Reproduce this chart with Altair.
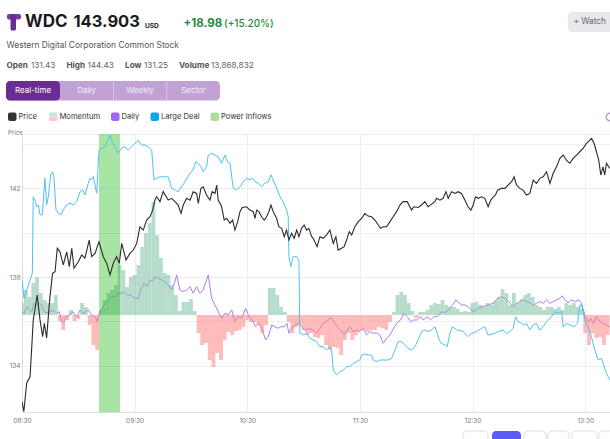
import altair as alt
import pandas as pd

# ---------------- data (minutes after 08:30) -------------
price_min = [0, 1, 2.5, 4.3, 6.0, 8.1, 9.6, 11.0, 11.9, 13.1, 14.9, 16.3, 17.6, 18.8, 20.2, 22.0, 23.8, 25.2, 26.5, 27.7,
             30.0, 31.8, 33.5, 35.8, 37.1, 38.9, 41.0, 43.3, 45.1, 46.9, 48.6, 50.4, 51.8, 53.1, 55.4, 57.5, 59.3, 61.1, 62.8, 64.6,
             66.4, 68.2, 69.6, 70.8, 71.7, 73.5, 75.2, 77.9, 79.7, 81.5, 83.2, 84.7, 85.9, 87.7, 89.5, 91.2, 93.0, 93.9, 95.3, 96.5,
             98.3, 100.1, 101.3, 102.8, 103.7, 104.5, 106.0, 106.7, 107.7, 109.0, 110.8, 112.2, 113.4, 114.9, 116.1, 117.3, 119.6, 121.4, 123.2, 124.1,
             125.0, 126.2, 127.6, 129.0, 130.3, 131.5, 132.6, 133.8, 135.6, 136.8, 138.3, 139.7, 140.9, 142.2, 143.6, 145.0, 146.3, 147.5, 148.9, 150.3,
             151.6, 152.8, 154.3, 155.1, 157.2, 158.7, 160.4, 162.2, 164.0, 165.8, 167.2, 168.4, 170.2, 171.6, 172.9, 174.3, 175.6, 177.3, 179.1, 180.9,
             182.6, 184.4, 186.2, 188.0, 189.8, 191.0, 192.4, 194.2, 196.0, 197.7, 199.5, 201.3, 203.0, 205.2, 207.5, 208.7, 211.0, 212.8, 214.6, 216.3,
             218.2, 219.9, 220.8, 222.6, 224.3, 225.8, 227.0, 228.8, 230.6, 232.3, 234.1, 235.9, 237.6, 239.1, 240.3, 241.6, 243.0, 244.8, 246.5, 248.3,
             249.7, 251.0, 252.2, 253.3, 255.4, 257.2, 258.9, 260.8, 262.1, 263.4, 265.2, 266.9, 268.7, 270.5, 272.3, 274.0, 275.8, 277.6, 279.4, 281.2,
             282.9, 284.7, 286.5, 288.3, 290.0, 291.8, 293.6, 295.4, 297.1, 298.9, 300.7, 303.4, 304.7, 306.0, 307.2, 308.3, 309.5, 310.4, 311.3, 313.1]
price_val = [132.39, 131.94, 133.23, 133.51, 136.07, 137.19, 136.07, 135.32, 135.92, 135.26, 137.12, 138.17, 138.24, 139.30, 139.14, 138.55, 139.14, 138.47, 139.30, 138.40,
             138.69, 139.00, 138.85, 139.67, 138.92, 139.07, 139.59, 138.92, 138.62, 138.10, 138.62, 138.92, 138.62, 139.52, 138.77, 139.07, 139.22, 139.52, 140.27, 140.12,
             140.57, 140.72, 141.02, 141.47, 141.62, 141.40, 141.85, 141.47, 141.55, 141.40, 141.25, 140.87, 141.25, 141.55, 141.47, 141.85, 141.77, 141.32, 142.00, 142.07,
             141.70, 141.47, 141.85, 141.77, 142.15, 141.47, 141.25, 141.02, 140.57, 140.65, 140.42, 140.57, 140.12, 140.50, 140.95, 141.14, 141.17, 141.02, 140.95, 140.65,
             141.02, 140.95, 140.72, 140.57, 140.72, 140.95, 141.25, 140.95, 140.65, 140.27, 140.20, 139.82, 140.12, 139.67, 139.97, 139.75, 140.12, 139.82, 140.20, 140.35,
             140.12, 140.20, 139.82, 139.75, 139.37, 139.82, 139.75, 139.90, 140.12, 139.52, 139.82, 139.22, 139.30, 139.37, 139.67, 140.05, 139.90, 140.27, 140.50, 140.65,
             140.87, 140.75, 140.72, 140.57, 140.35, 140.20, 140.27, 140.27, 140.50, 140.72, 140.95, 141.25, 141.40, 141.40, 141.02, 141.17, 141.14, 141.25, 141.40, 141.17,
             141.29, 141.40, 141.55, 141.47, 141.55, 141.85, 141.55, 141.85, 141.77, 141.85, 141.77, 141.47, 141.17, 141.02, 141.25, 141.62, 141.55, 141.62, 141.55, 141.17,
             141.47, 141.62, 141.70, 141.92, 142.00, 142.00, 142.15, 142.30, 142.52, 142.15, 142.00, 141.92, 141.70, 141.77, 142.37, 142.22, 142.45, 142.52, 142.75, 142.22,
             142.67, 142.97, 143.35, 143.50, 143.27, 143.13, 143.35, 143.50, 143.65, 143.80, 144.03, 144.25, 144.03, 143.65, 143.27, 142.60, 142.97, 142.60, 143.13, 142.90]

deal_min = [0, 1.1, 2.5, 4.3, 5.5, 6.0, 6.9, 7.8, 8.7, 9.6, 10.8, 12.2, 13.1, 14.0, 15.3, 16.3, 17.0, 18.1, 19.3, 20.8,
            22.0, 23.8, 25.6, 27.3, 29.1, 30.9, 32.3, 33.5, 35.3, 36.2, 37.1, 38.0, 39.8, 41.0, 42.4, 44.2, 45.4, 46.9, 48.3, 49.5,
            51.3, 53.1, 54.8, 56.6, 58.4, 60.2, 61.9, 63.7, 65.5, 67.3, 69.1, 70.3, 71.7, 73.5, 75.2, 77.9, 79.7, 81.5, 83.2, 85.0,
            86.8, 89.5, 91.2, 92.5, 93.9, 95.3, 96.5, 98.3, 99.2, 101.0, 102.8, 104.5, 106.3, 108.1, 109.5, 110.8, 112.5, 114.3, 116.1, 117.8,
            119.6, 121.4, 122.6, 124.1, 125.8, 127.6, 129.4, 131.2, 132.6, 133.8, 135.6, 137.4, 139.1, 140.9, 141.8, 142.2, 143.2, 144.5, 146.3, 147.5,
            148.0, 149.8, 151.6, 153.4, 155.1, 156.9, 158.7, 160.4, 162.2, 164.0, 164.9, 165.8, 167.6, 169.3, 171.1, 172.9, 174.7, 176.4, 178.2, 180.0,
            180.9, 182.6, 184.4, 186.2, 187.1, 188.9, 190.6, 192.4, 195.1, 196.9, 198.6, 200.4, 202.2, 203.9, 205.7, 207.5, 209.3, 211.0, 212.8, 214.6,
            216.3, 218.2, 219.9, 221.2, 222.2, 223.5, 225.3, 226.5, 227.9, 229.3, 231.5, 232.3, 235.0, 237.6, 239.5, 242.1, 244.8, 246.5, 248.3, 251.0,
            253.6, 256.3, 258.1, 259.9, 261.6, 262.9, 264.3, 266.1, 267.8, 268.7, 270.5, 272.3, 274.0, 275.8, 277.6, 279.4, 282.1, 283.8, 285.6, 287.4,
            288.3, 290.0, 291.8, 294.1, 295.9, 297.1, 298.0, 299.8, 301.5, 303.3, 305.1, 306.9, 308.7, 310.1, 311.3, 313.1]
deal_val = [47.5, 40.9, 43.9, 47.5, 49.9, 77.4, 76.3, 73.8, 74.5, 70.9, 70.9, 84.1, 74.5, 77.4, 85.3, 86.4, 84.6, 72.7, 71.5, 70.9,
            72.7, 74.5, 75.1, 74.5, 75.6, 79.2, 79.9, 78.1, 82.3, 84.1, 83.5, 84.7, 78.7, 94.2, 94.9, 95.4, 97.2, 99.6, 96.7, 95.4,
            93.1, 94.9, 95.4, 94.2, 95.4, 96.7, 97.8, 96.0, 96.0, 95.4, 94.2, 83.5, 84.1, 84.6, 84.6, 84.6, 80.5, 79.9, 79.2, 81.0,
            82.8, 85.9, 87.1, 90.0, 89.4, 88.2, 86.4, 88.2, 92.4, 93.1, 92.4, 91.8, 89.4, 92.4, 90.0, 89.4, 80.5, 79.9, 81.0, 82.8,
            84.1, 83.5, 84.1, 82.8, 82.3, 81.0, 82.3, 82.8, 85.3, 83.5, 80.5, 77.5, 75.6, 72.7, 70.3, 55.9, 52.3, 55.9, 55.9, 54.7,
            28.3, 27.7, 28.3, 26.5, 25.9, 25.3, 23.5, 23.5, 22.3, 23.5, 22.3, 15.1, 13.3, 14.5, 15.1, 16.3, 16.3, 17.5, 18.1, 18.7,
            20.5, 20.9, 20.5, 20.5, 18.7, 18.1, 18.7, 18.7, 18.7, 19.3, 22.3, 25.3, 25.3, 24.1, 22.9, 22.3, 23.5, 25.9, 28.9, 29.5,
            28.9, 29.5, 30.7, 28.3, 25.9, 24.7, 24.1, 23.5, 28.3, 30.7, 29.5, 29.5, 28.9, 27.1, 28.3, 28.9, 30.1, 30.7, 27.7, 28.1,
            28.9, 29.5, 28.3, 28.9, 30.1, 34.3, 32.5, 31.9, 31.3, 31.9, 29.5, 31.3, 31.9, 29.5, 30.7, 32.5, 34.3, 36.1, 35.5, 36.1,
            30.7, 31.9, 31.3, 30.7, 31.9, 38.5, 38.5, 33.1, 30.7, 27.1, 22.3, 18.7, 19.3, 16.3, 13.9, 11.5]

daily_min = [0, 1.1, 2.5, 3.9, 5.2, 6.4, 7.8, 9.2, 10.5, 11.7, 13.2, 14.9, 16.7, 18.5, 19.9, 21.1, 22.4, 23.8, 25.6, 27.0,
             28.2, 29.4, 30.9, 32.3, 34.1, 35.3, 37.1, 38.9, 40.1, 41.2, 42.4, 44.2, 46.0, 47.8, 49.5, 51.3, 53.1, 54.3, 56.1, 57.9,
             60.2, 61.9, 63.2, 65.0, 66.4, 68.2, 69.6, 70.8, 72.6, 74.4, 76.1, 77.9, 79.7, 81.5, 82.4, 84.1, 85.9, 87.7, 89.5, 91.2,
             93.0, 94.8, 96.5, 99.2, 101.0, 102.8, 104.5, 106.3, 108.1, 109.9, 111.7, 113.4, 115.2, 117.0, 119.1, 120.9, 122.6, 124.4, 126.2, 128.0,
             129.8, 131.2, 133.0, 134.7, 136.5, 137.9, 139.7, 141.1, 142.2, 143.6, 145.8, 147.1, 148.9, 150.7, 152.5, 155.1, 156.9, 158.7, 160.4, 162.2,
             164.4, 166.1, 167.9, 169.7, 171.5, 173.2, 174.7, 176.4, 178.2, 180.0, 181.7, 183.5, 185.3, 187.1, 188.9, 190.6, 192.4, 194.2, 196.0, 197.7,
             199.5, 201.7, 203.4, 205.2, 207.0, 208.7, 210.5, 212.3, 213.7, 215.8, 217.6, 219.4, 221.2, 223.5, 225.2, 227.0, 229.3, 231.1, 234.1, 235.9,
             237.6, 240.3, 243.0, 245.6, 248.3, 251.0, 253.3, 255.4, 257.2, 259.3, 261.6, 263.4, 265.2, 266.9, 268.7, 270.5, 272.3, 274.1, 275.8, 277.6,
             279.4, 281.2, 282.9, 284.7, 286.5, 287.7, 289.2, 290.9, 292.7, 294.8, 296.6, 298.0, 299.8, 301.6, 303.0, 304.2, 306.0, 307.8, 309.6, 311.4,
             313.1]
daily_val = [36.1, 35.5, 37.9, 36.7, 36.1, 39.1, 38.5, 39.1, 38.5, 36.1, 35.7, 36.1, 36.7, 35.5, 36.1, 32.5, 32.5, 34.3, 34.9, 36.1,
             34.9, 34.3, 36.7, 35.5, 36.1, 36.7, 34.9, 34.3, 32.5, 35.5, 36.7, 39.1, 40.3, 41.5, 41.5, 42.7, 42.7, 43.3, 42.1, 42.1,
             40.9, 40.9, 43.9, 46.3, 45.1, 47.5, 46.9, 48.7, 48.1, 47.5, 46.9, 45.7, 43.9, 46.9, 49.3, 43.9, 43.3, 43.9, 45.1, 42.7,
             45.1, 42.7, 43.9, 49.3, 40.9, 38.5, 36.1, 33.7, 35.5, 34.9, 36.7, 32.5, 34.3, 33.7, 37.3, 34.3, 33.1, 30.7, 31.9, 29.5,
             25.9, 27.1, 31.3, 30.7, 30.1, 30.7, 30.7, 31.9, 28.3, 30.1, 31.3, 31.9, 30.7, 29.5, 30.1, 29.5, 28.3, 30.1, 31.9, 32.5,
             34.1, 32.5, 30.7, 29.5, 27.7, 29.5, 30.7, 28.9, 29.5, 28.9, 30.1, 27.7, 28.9, 28.3, 28.5, 27.7, 24.7, 26.5, 27.7, 29.8,
             31.9, 33.1, 35.5, 34.3, 32.5, 33.1, 33.1, 34.3, 33.1, 34.3, 33.1, 34.3, 34.3, 36.1, 35.7, 36.7, 38.5, 40.3, 38.5, 38.5,
             37.9, 36.1, 37.3, 37.9, 38.5, 39.1, 40.9, 41.5, 40.9, 39.7, 37.9, 39.1, 39.7, 40.3, 39.7, 39.3, 38.5, 39.1, 39.7, 39.1,
             40.3, 39.1, 39.7, 40.3, 40.9, 41.8, 40.3, 39.3, 40.3, 39.7, 40.3, 39.1, 34.9, 32.5, 33.7, 31.9, 34.3, 32.5, 31.9, 31.3,
             30.6]

mom_min = list(range(0, 313, 2))
mom_val = [12, 25, 18, 32, 38, 22, 15, 12, 12, 20,
           -6, -15, -5, 5, -6, -4, 12, 8, -10, -30,
           -35, 5, 15, 22, 25, 30, 50, 45, 28, 38,
           40, 50, 68, 82, 92, 113, 80, 57, 42, 40,
           30, 20, 4, 13, 13, 16, 4, -18, -30, -28,
           -45, -52, -38, -45, -25, -17, -20, -16, -15, -12,
           -5, -7, -7, -10, -18, -10, 27, 27, 20, 8,
           3, -7, -18, -12, -10, -15, -20, -18, -22, -23,
           -20, -30, -35, -32, -33, -40, -25, -18, -25, -20,
           -16, -15, -17, -15, -15, -12, -13, -15, -7, 3,
           20, 23, 20, 12, 4, -3, 3, 3, 5, 10,
           12, 11, 15, 10, 8, 8, 6, 3, 4, 3,
           12, 13, 10, 8, 12, 10, 14, 18, 26, 22,
           10, 22, 12, 16, 20, 22, 18, 10, 8, 5,
           8, 8, 6, 8, 5, 12, 10, 12, 8, 6,
           -18, -30, -18, -23, -22, -30, -20]

inflow_start_min = [41.0]
inflow_end_min = [52.2]

legend_labels = ["Price", "Momentum", "Daily", "Large Deal", "Power Inflows"]
tab_labels = ["Real-time", "Daily", "Weekly", "Sector"]
tick_hours = [8, 9, 10, 11, 12, 13]

# ---------------- frames ----------------
base = pd.Timestamp("2024-01-02 08:30:00")


def ts(mins):
    return (base + pd.to_timedelta(list(mins), unit="min")).round("s")


def frame(mins, vals, name):
    n = min(len(mins), len(vals))
    return pd.DataFrame({"t": ts(mins[:n]), name: vals[:n]})


price_df = frame(price_min, price_val, "price")
deal_df = frame(deal_min, deal_val, "deal")
daily_df = frame(daily_min, daily_val, "daily")
mom_df = frame(mom_min, mom_val, "mom")
band_df = pd.DataFrame({"start": ts(inflow_start_min), "end": ts(inflow_end_min)})
dummy = pd.DataFrame({"k": [0]})

W, H = 588, 278
X0, Y0 = 22, 134
FONT = "Inter"

x_scale = alt.Scale(domain=[alt.DateTime(year=2024, month=1, date=2, hours=8, minutes=30),
                            alt.DateTime(year=2024, month=1, date=2, hours=13, minutes=43, seconds=12)],
                    padding=0)
x_axis = alt.Axis(values=[alt.DateTime(year=2024, month=1, date=2, hours=h, minutes=30) for h in tick_hours],
                  format="%H:%M", grid=True, gridColor="#eeeeee", domainColor="#dddddd", ticks=False,
                  labelFontSize=6.5, labelColor="#777777", labelPadding=5, title=None, labelFont=FONT,
                  labelFlush=False, labelBound=False, labelOverlap=False)

TEAL = "#7dbfa2"
PINK = "#ff8282"

band = alt.Chart(band_df).mark_rect(color="#0fb400", opacity=0.36).encode(
    x=alt.X("start:T", scale=x_scale, axis=x_axis), x2="end:T",
    y=alt.value(0), y2=alt.value(H))

bars = alt.Chart(mom_df).mark_bar(size=3.8, clip=True).encode(
    x=alt.X("t:T", scale=x_scale, axis=x_axis),
    y=alt.Y("mom:Q", scale=alt.Scale(domain=[-97, 181], nice=False), axis=None),
    color=alt.condition(alt.datum.mom >= 0, alt.value(TEAL), alt.value(PINK)),
    opacity=alt.value(0.55))

deal = alt.Chart(deal_df).mark_line(color="#4fc1f0", strokeWidth=1, clip=True).encode(
    x=alt.X("t:T", scale=x_scale, axis=x_axis),
    y=alt.Y("deal:Q", scale=alt.Scale(domain=[0, 100], nice=False), axis=None))

daily = alt.Chart(daily_df).mark_line(color="#ad7cf7", strokeWidth=1, clip=True).encode(
    x=alt.X("t:T", scale=x_scale, axis=x_axis),
    y=alt.Y("daily:Q", scale=alt.Scale(domain=[0, 100], nice=False), axis=None))

price = alt.Chart(price_df).mark_line(color="#2b2b2b", strokeWidth=1.1, clip=True).encode(
    x=alt.X("t:T", scale=x_scale, axis=x_axis),
    y=alt.Y("price:Q", scale=alt.Scale(domain=[131.92, 144.45], nice=False, zero=False),
            axis=alt.Axis(values=[134, 136, 138, 140, 142, 144],
                          labelExpr="datum.value % 4 == 2 ? datum.label : ''",
                          grid=True, gridColor="#eeeeee", domainColor="#dddddd", ticks=False,
                          labelFontSize=6.5, labelColor="#777777", labelPadding=2, title=None,
                          labelFont=FONT)))


# ---------------- annotation helpers ----------------
def text(s, x, y, size, color, weight="normal", align="left"):
    return alt.Chart(dummy).mark_text(text=s, align=align, baseline="middle", fontSize=size,
                                      color=color, fontWeight=weight, font=FONT).encode(
        x=alt.value(x - X0), y=alt.value(y - Y0))


def box(x1, y1, x2, y2, color, radius=0, stroke=None):
    kw = dict(fill=color, cornerRadius=radius)
    if stroke is not None:
        kw["stroke"] = stroke
        kw["strokeWidth"] = 1
    return alt.Chart(dummy).mark_rect(**kw).encode(
        x=alt.value(x1 - X0), x2=alt.value(x2 - X0), y=alt.value(y1 - Y0), y2=alt.value(y2 - Y0))


ann = []
# logo
ann += [box(7, 14, 21, 19.5, "#7a3a9e", 2), box(10.5, 14, 16, 30.5, "#6a2d8f", 1.5)]
# header texts
ann += [text("WDC", 25, 22, 17, "#1a1a1a", "bold"),
        text("143.903", 73.5, 22, 16.5, "#1a1a1a", "bold"),
        text("USD", 145, 25.5, 6.5, "#1a1a1a", "bold"),
        text("+18.98", 183.5, 24, 11.5, "#1e8a3c", "bold"),
        text("(+15.20%)", 224, 24, 10, "#1e8a3c", 500),
        text("Western Digital Corporation Common Stock", 6.5, 45, 8.4, "#555555")]
stats = [("Open", "131.43", 6.5, 31), ("High", "144.43", 66.5, 87.5),
         ("Low", "131.25", 125, 144), ("Volume", "13,868,832", 179, 211)]
for lab, val, xl, xv in stats:
    ann += [text(lab, xl, 65.5, 8.2, "#555555", "bold"), text(val, xv, 65.5, 8.2, "#666666")]
# tabs
ann += [box(6, 81, 220, 100.5, "#c2a2d4", 4), box(6, 81, 60, 100.5, "#6b2c93", 4)]
ann += [box(113, 81, 113.6, 100.5, "#e4d6ec"), box(166.5, 81, 167.1, 100.5, "#e4d6ec")]
tab_centers = [33, 86.5, 140, 193.5]
for lab, cx in zip(tab_labels, tab_centers):
    col = "#ffffff" if lab == "Real-time" else "#f2ebf6"
    ann.append(text(lab, cx, 91, 8, col, "normal", "center"))
# watch button
ann += [box(568, 12, 620, 32, "#e8e8ed", 4), text("+ Watch", 573.5, 22, 8.3, "#666666")]
# legend
sw = [8, 49, 111, 150.5, 210.5]
sw_colors = ["#333333", None, "#a066f5", "#0ea5e9", "#a8e09c"]
for lab, sx, c in zip(legend_labels, sw, sw_colors):
    if c is None:
        ann += [box(sx, 112.5, sx + 8.5, 116.8, "#c9e6db", 1.5), box(sx, 116.8, sx + 8.5, 121, "#ffc8c8", 1.5)]
    else:
        ann.append(box(sx, 112.5, sx + 8.5, 121, c, 2))
    ann.append(text(lab, sx + 10.5, 116.8, 7.6, "#333333"))
ann.append(alt.Chart(dummy).mark_point(shape="circle", size=55, filled=False, color="#9b6cd6",
                                       strokeWidth=1.5).encode(x=alt.value(610 - X0), y=alt.value(117 - Y0)))
# axis title
ann.append(text("Price", 8, 132.5, 6, "#777777"))
# bottom pager buttons
ann += [box(463, 431, 488, 450, "#ffffff", 4, "#dddddd"),
        box(492, 431, 521, 450, "#5b5bf5", 4),
        box(524, 431, 546, 450, "#ffffff", 4, "#dddddd"),
        box(548, 431, 569, 450, "#ffffff", 4, "#dddddd"),
        box(572, 431, 597, 450, "#ffffff", 4, "#dddddd"),
        box(599, 431, 625, 450, "#ffffff", 4, "#dddddd")]

chart = alt.layer(daily, bars, band, deal, price, *ann).resolve_scale(y="independent").properties(
    width=W, height=H,
    padding={"left": X0, "top": Y0, "right": 0, "bottom": 27},
    autosize=alt.AutoSizeParams(type="none"),
    background="white",
).configure_view(stroke="#eeeeee")

chart.save("out.html", embed_options={"renderer": "svg", "actions": False})
